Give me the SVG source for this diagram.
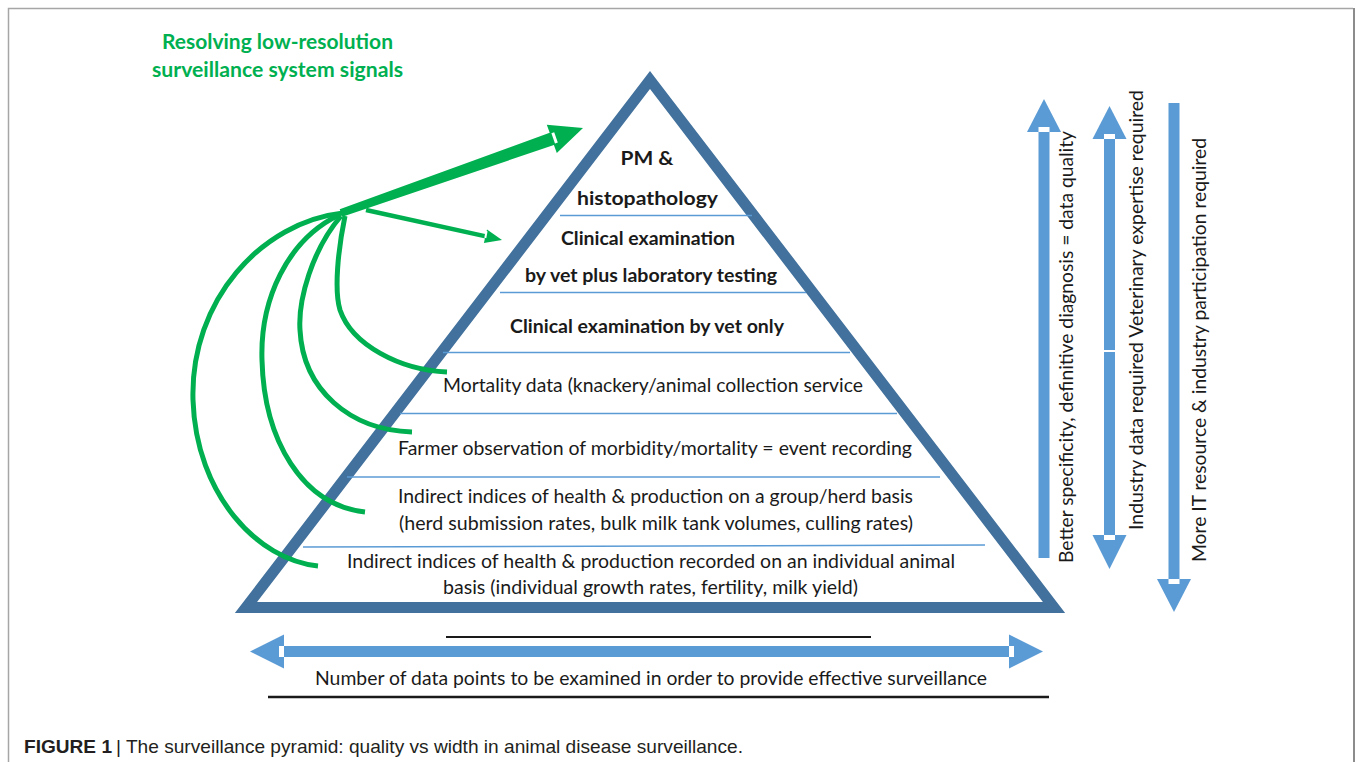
<svg xmlns="http://www.w3.org/2000/svg" width="1357" height="762" viewBox="0 0 1357 762">
<style>
.t{font-family:Lato,"Noto Sans","Liberation Sans",sans-serif;fill:#1a1a1a;}
.r{font-size:19px;}
.b{font-size:19px;font-weight:bold;}
.g{font-family:Lato,"Noto Sans","Liberation Sans",sans-serif;font-size:20px;font-weight:bold;fill:#00B050;}
.sep{stroke:#5B9BD5;stroke-width:1.5;fill:none;}
.blue{fill:#5B9BD5;}
.notch{fill:#ffffff;}
.curve{fill:none;stroke:#00B050;stroke-width:5;stroke-linecap:butt;}
.green{fill:#00B050;}
.cap{font-family:"Liberation Sans",Arial,sans-serif;font-size:18.5px;fill:#231f20;}
.rule{stroke:#1a1a1a;fill:none;}
</style>
<rect x="0" y="0" width="1357" height="762" fill="#ffffff"/>
<g id="border">
<path d="M8.5,762 V8.5 H1353" fill="none" stroke="#a6a6a6" stroke-width="1.5"/>
<path d="M1354,8 V762" fill="none" stroke="#8c8c8c" stroke-width="2"/>
</g>
<g id="title">
<text class="g" x="277.5" y="49" text-anchor="middle" textLength="231" lengthAdjust="spacingAndGlyphs">Resolving low-resolution</text>
<text class="g" x="277.5" y="77" text-anchor="middle" textLength="251" lengthAdjust="spacingAndGlyphs">surveillance system signals</text>
</g>
<g id="pyramid">
<polygon points="650,80 1054,607.5 246,607.5" fill="none" stroke="#41719C" stroke-width="11" stroke-linejoin="miter"/>
<line class="sep" x1="560" y1="215.5" x2="752" y2="215.5"/>
<line class="sep" x1="500" y1="292.5" x2="806" y2="292.5"/>
<line class="sep" x1="443" y1="352.5" x2="850" y2="352.5"/>
<line class="sep" x1="400" y1="413.5" x2="897" y2="413.5"/>
<line class="sep" x1="347" y1="477" x2="940" y2="477"/>
<line class="sep" x1="303" y1="547" x2="985" y2="545"/>
</g>
<g id="layer-pm">
<text class="t b" x="647" y="165" text-anchor="middle" textLength="53" lengthAdjust="spacingAndGlyphs">PM &amp;</text>
<text class="t b" x="647.5" y="205" text-anchor="middle" textLength="141" lengthAdjust="spacingAndGlyphs">histopathology</text>
</g>
<g id="layer-clinical-lab">
<text class="t b" x="648" y="245" text-anchor="middle" textLength="174" lengthAdjust="spacingAndGlyphs">Clinical examination</text>
<text class="t b" x="651" y="282" text-anchor="middle" textLength="252" lengthAdjust="spacingAndGlyphs">by vet plus laboratory testing</text>
</g>
<g id="layer-clinical-vet">
<text class="t b" x="647" y="333" text-anchor="middle" textLength="274" lengthAdjust="spacingAndGlyphs">Clinical examination by vet only</text>
</g>
<g id="layer-mortality">
<text class="t r" x="653" y="392" text-anchor="middle" textLength="420" lengthAdjust="spacingAndGlyphs">Mortality data (knackery/animal collection service</text>
</g>
<g id="layer-farmer">
<text class="t r" x="655" y="455" text-anchor="middle" textLength="514" lengthAdjust="spacingAndGlyphs">Farmer observation of morbidity/mortality = event recording</text>
</g>
<g id="layer-herd">
<text class="t r" x="655.5" y="503" text-anchor="middle" textLength="515" lengthAdjust="spacingAndGlyphs">Indirect indices of health &amp; production on a group/herd basis</text>
<text class="t r" x="656" y="530" text-anchor="middle" textLength="514" lengthAdjust="spacingAndGlyphs">(herd submission rates, bulk milk tank volumes, culling rates)</text>
</g>
<g id="layer-individual">
<text class="t r" x="651" y="568" text-anchor="middle" textLength="608" lengthAdjust="spacingAndGlyphs">Indirect indices of health &amp; production recorded on an individual animal</text>
<text class="t r" x="650.5" y="594" text-anchor="middle" textLength="415" lengthAdjust="spacingAndGlyphs">basis (individual growth rates, fertility, milk yield)</text>
</g>
<g id="connectors">
<path class="curve" d="M343,213 C262,222 190,300 193,400 C196,495 258,560 318,566"/>
<path class="curve" d="M339,215 C287,240 260,300 262,360 C264,440 302,505 365,512"/>
<path class="curve" d="M341,216 C312,250 298,300 300,330 C303,390 350,430 412,432"/>
<path class="curve" d="M345,216 C338,250 334,290 340,310 C352,345 400,370 447,372"/>
<polygon class="green" points="339.7,209.2 549.7,132.8 546.8,124.7 583,128 556.8,153.1 553.9,145.0 342.3,216.8"/>
<polygon class="notch" points="551.4,133.2 554.2,132.2 557.8,142.6 555.0,143.6"/>
<line x1="366" y1="210" x2="487" y2="236.6" stroke="#00B050" stroke-width="4.5"/>
<polygon class="green" points="487,229.4 502,240 483.9,243"/>
<line x1="486.6" y1="231" x2="485.3" y2="238" stroke="#ffffff" stroke-width="2"/>
</g>
<g id="arrow-quality">
<polygon class="blue" points="1044,99 1061,132 1027,132"/>
<rect class="blue" x="1038.5" y="132" width="11" height="426"/>
<rect class="notch" x="1038.5" y="127" width="11" height="5"/>
<text class="t r" transform="translate(1073,347) rotate(-90)" text-anchor="middle" textLength="432" lengthAdjust="spacingAndGlyphs">Better specificity, definitive diagnosis = data quality</text>
</g>
<g id="arrow-expertise">
<polygon class="blue" points="1109.5,106 1126.5,139 1092.5,139"/>
<rect class="blue" x="1104" y="139" width="11" height="396"/>
<rect class="notch" x="1104" y="134" width="11" height="5"/>
<rect class="notch" x="1104" y="350" width="11" height="2"/>
<polygon class="blue" points="1092.5,535 1126.5,535 1109.5,569"/>
<rect class="notch" x="1104" y="535" width="11" height="5"/>
<text class="t r" transform="translate(1143,310) rotate(-90)" text-anchor="middle" textLength="440" lengthAdjust="spacingAndGlyphs">Industry data required Veterinary expertise required</text>
</g>
<g id="arrow-resource">
<rect class="blue" x="1168.5" y="103" width="11" height="476"/>
<polygon class="blue" points="1157,579 1191,579 1174,612"/>
<rect class="notch" x="1168.5" y="579" width="11" height="5"/>
<text class="t r" transform="translate(1206,350) rotate(-90)" text-anchor="middle" textLength="424" lengthAdjust="spacingAndGlyphs">More IT resource &amp; industry participation required</text>
</g>
<g id="arrow-datapoints">
<line class="rule" x1="446" y1="637" x2="871" y2="637" stroke-width="2"/>
<polygon class="blue" points="250,651.5 284,634.5 284,668.5"/>
<rect class="blue" x="284" y="646" width="725" height="11"/>
<rect class="notch" x="279" y="646" width="5" height="11"/>
<polygon class="blue" points="1009,634.5 1043,651.5 1009,668.5"/>
<rect class="notch" x="1009" y="646" width="5" height="11"/>
<text class="t r" x="651" y="685" text-anchor="middle" textLength="672" lengthAdjust="spacingAndGlyphs">Number of data points to be examined in order to provide effective surveillance</text>
<line class="rule" x1="268" y1="697" x2="1049" y2="697" stroke-width="2.5"/>
</g>
<g id="caption">
<text class="cap" x="24" y="753" font-weight="bold" textLength="88" lengthAdjust="spacingAndGlyphs">FIGURE 1</text>
<text class="cap" x="116" y="753" textLength="627" lengthAdjust="spacingAndGlyphs">| The surveillance pyramid: quality vs width in animal disease surveillance.</text>
</g>
</svg>
